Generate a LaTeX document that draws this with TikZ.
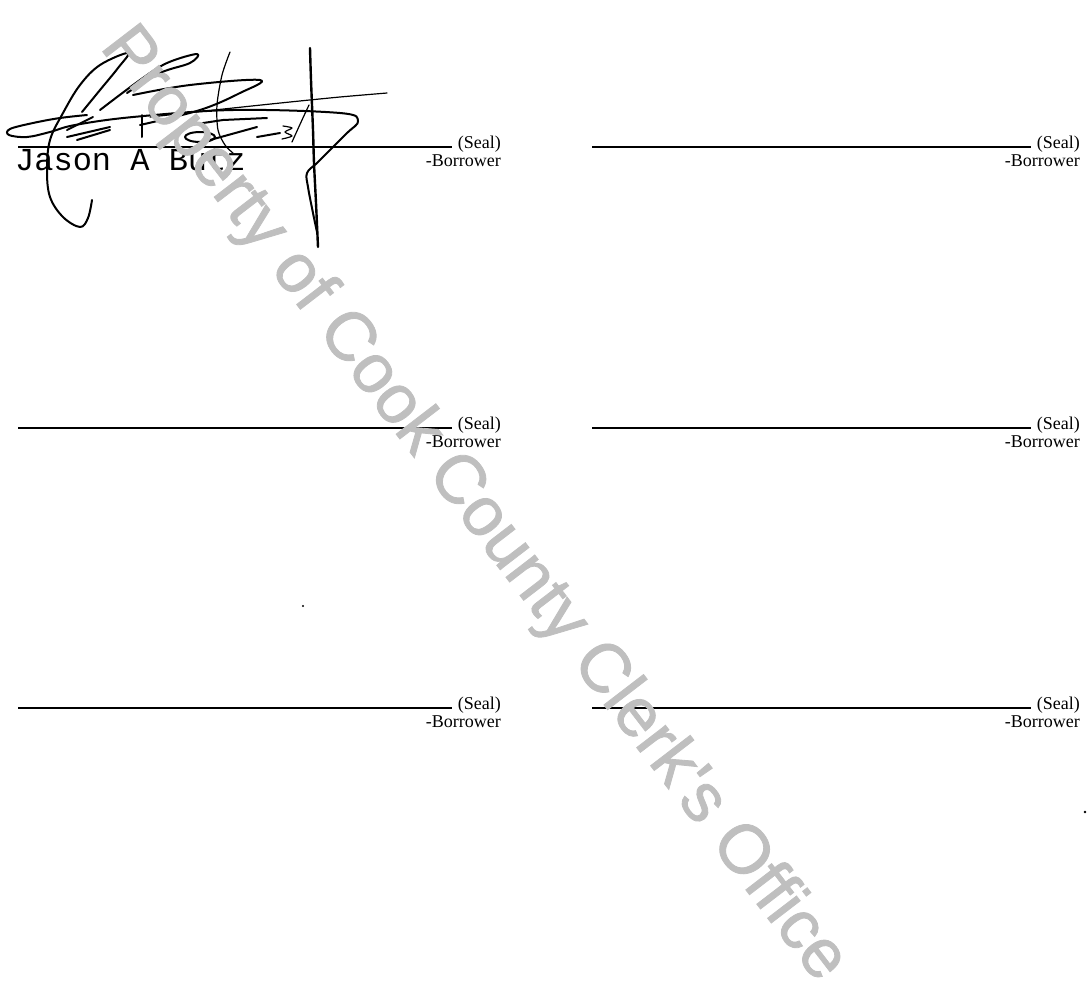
\documentclass[tikz,border=0pt]{standalone}
\usepackage{fontspec}
\setmainfont{Liberation Serif}
\newfontfamily\typedfont{Liberation Mono}
\newfontfamily\markfont[FakeBold=1.2]{Liberation Sans}
\begin{document}
\begin{tikzpicture}[x=1pt,y=-1pt,
  sigline/.style={line width=1.2pt},
  sealtext/.style={font=\fontsize{18}{18}\selectfont,anchor=base east,inner sep=0pt},
  ink/.style={line width=2pt,line cap=round,line join=round},
  thinink/.style={line width=1.2pt,line cap=round,line join=round}]
\useasboundingbox (0,0) rectangle (1088,1005);
% left column
\begin{scope}[shift={(0,147)}]
\draw[sigline] (18,0) -- (452,0);
\node[sealtext] (seal1) at (501,1) {(Seal)};
\node[sealtext] (borr1) at (501,19) {-Borrower};
\node[font=\typedfont\fontsize{32}{32}\selectfont,anchor=base west,inner sep=0pt] (name1) at (15,23) {Jason A Butz};
\end{scope}
\begin{scope}[shift={(0,428)}]
\draw[sigline] (18,0) -- (452,0);
\node[sealtext] (seal3) at (501,1) {(Seal)};
\node[sealtext] (borr3) at (501,19) {-Borrower};
\end{scope}
\begin{scope}[shift={(0,708)}]
\draw[sigline] (18,0) -- (452,0);
\node[sealtext] (seal5) at (501,1) {(Seal)};
\node[sealtext] (borr5) at (501,19) {-Borrower};
\end{scope}
% right column
\begin{scope}[shift={(0,147)}]
\draw[sigline] (592,0) -- (1031,0);
\node[sealtext] (seal2) at (1080,1) {(Seal)};
\node[sealtext] (borr2) at (1080,19) {-Borrower};
\end{scope}
\begin{scope}[shift={(0,428)}]
\draw[sigline] (592,0) -- (1031,0);
\node[sealtext] (seal4) at (1080,1) {(Seal)};
\node[sealtext] (borr4) at (1080,19) {-Borrower};
\end{scope}
\begin{scope}[shift={(0,708)}]
\draw[sigline] (592,0) -- (1031,0);
\node[sealtext] (seal6) at (1080,1) {(Seal)};
\node[sealtext] (borr6) at (1080,19) {-Borrower};
\end{scope}
% signature
\draw[ink] plot[smooth,tension=0.6] coordinates {(92,200) (88,218) (80,227) (63,217) (50,197) (47,170) (50,140) (63,113) (80,85) (100,65) (128,53) (118,68) (100,90) (82,112)};
\draw[ink] plot[smooth,tension=0.6] coordinates {(87,115) (60,118) (33,123) (10,129) (9,135) (27,137) (50,132) (75,125) (133,117) (233,110) (340,113) (358,121) (347,133) (330,150) (317,163) (307,173) (308,187) (313,213) (317,232)};
\draw[thinink] plot[smooth] coordinates {(387,93) (340,97) (290,102) (233,108) (150,117)};
\draw[ink] plot[smooth,tension=0.6] coordinates {(100,110) (140,80) (167,63) (197,54) (190,63) (160,73) (127,93)};
\draw[ink] plot[smooth,tension=0.6] coordinates {(133,95) (190,85) (260,80) (240,93) (200,110) (140,125)};
\draw[thinink] plot[smooth] coordinates {(230,52) (222,75) (217,105) (218,130) (225,145) (233,153)};
\draw[ink] (67,137) -- (110,127);
\draw[ink] (67,130) -- (93,117);
\draw[ink] (77,140) -- (110,130);
\draw[ink] (142,115) -- (142,137);
\draw[ink] (190,125) -- (223,120) -- (267,118);
\draw[ink] (210,140) -- (257,127);
\draw[ink] (257,137) -- (280,133);
\draw[thinink] plot[smooth] coordinates {(283,126) (292,128) (285,132) (292,136) (282,139)};
\draw[thinink] plot[smooth] coordinates {(292,142) (302,120) (309,105)};
\draw[ink] (200,137) ellipse (15 and 5);
\draw[line width=2.4pt,line cap=round] plot[smooth] coordinates {(310,48) (311,80) (313,130) (314,163) (316,203) (318,247)};
% specks
\fill (303,606) circle (1.2);
\fill (1085,812) circle (1.4);
% watermark
\node[font=\markfont\fontsize{69}{69}\selectfont,text=black!25,rotate=-52.5,inner sep=0pt] (mark) at (473,505) {Property of Cook County Clerk's Office};
\end{tikzpicture}
\end{document}
